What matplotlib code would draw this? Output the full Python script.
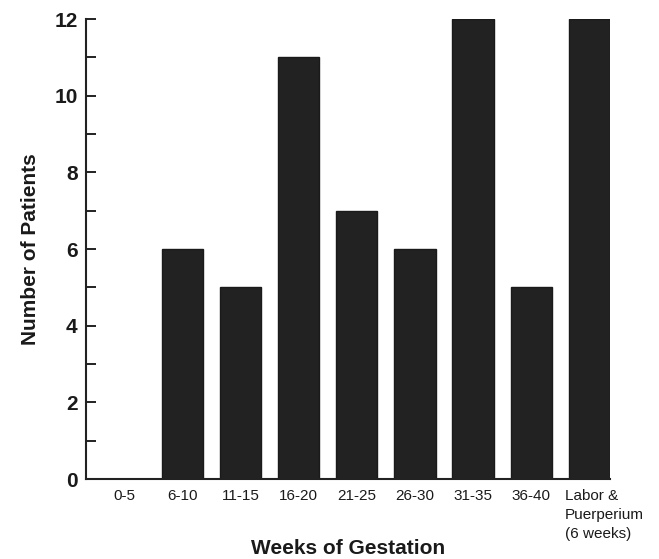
import matplotlib.pyplot as plt
import matplotlib.transforms as mtransforms
import numpy as np

plt.rcParams['font.family'] = ['Liberation Sans', 'DejaVu Sans']

categories = ['0-5', '6-10', '11-15', '16-20', '21-25', '26-30', '31-35', '36-40',
              'Labor &\nPuerperium\n(6 weeks)']
patients = [0, 6, 5, 11, 7, 6, 12, 5, 12]

fig = plt.figure(figsize=(6.59, 5.59), dpi=100)
ax = fig.add_axes([0.1305, 0.1431, 0.7951, 0.8229])

x = np.arange(len(categories))
ax.bar(x, patients, width=0.71, color='#222222', edgecolor='#1a1a1a')

ax.set_xlim(-0.655, len(categories) - 1 + 0.355)
ax.set_ylim(0, 12)

ax.spines['top'].set_visible(False)
ax.spines['right'].set_visible(False)
ax.spines['left'].set_linewidth(1.5)
ax.spines['bottom'].set_linewidth(1.5)
ax.spines['left'].set_color('#222222')
ax.spines['bottom'].set_color('#222222')

ax.set_yticks(np.arange(0, 13, 2))
ax.set_yticks(np.arange(1, 12, 2), minor=True)
ax.tick_params(axis='y', which='both', direction='in', length=7, width=1.4,
               color='#222222', pad=6)
ax.tick_params(axis='y', which='major', labelsize=15)
for lab in ax.get_yticklabels():
    lab.set_fontweight('bold')
    lab.set_color('#1a1a1a')

ax.set_xticks(x)
ax.set_xticklabels(categories, fontsize=11, color='#1a1a1a', linespacing=1.45)
ax.tick_params(axis='x', length=0, pad=7)
last = ax.get_xticklabels()[-1]
last.set_multialignment('left')
last.set_transform(last.get_transform() +
                   mtransforms.ScaledTranslation(0.15, 0, fig.dpi_scale_trans))

ax.set_ylabel('Number of Patients', fontsize=15, fontweight='bold',
              color='#1a1a1a', labelpad=10)
ax.set_xlabel('Weeks of Gestation', fontsize=15, fontweight='bold',
              color='#1a1a1a', va='center')
ax.xaxis.set_label_coords(0.5, -0.15)

fig.savefig('out.png', dpi=100)
